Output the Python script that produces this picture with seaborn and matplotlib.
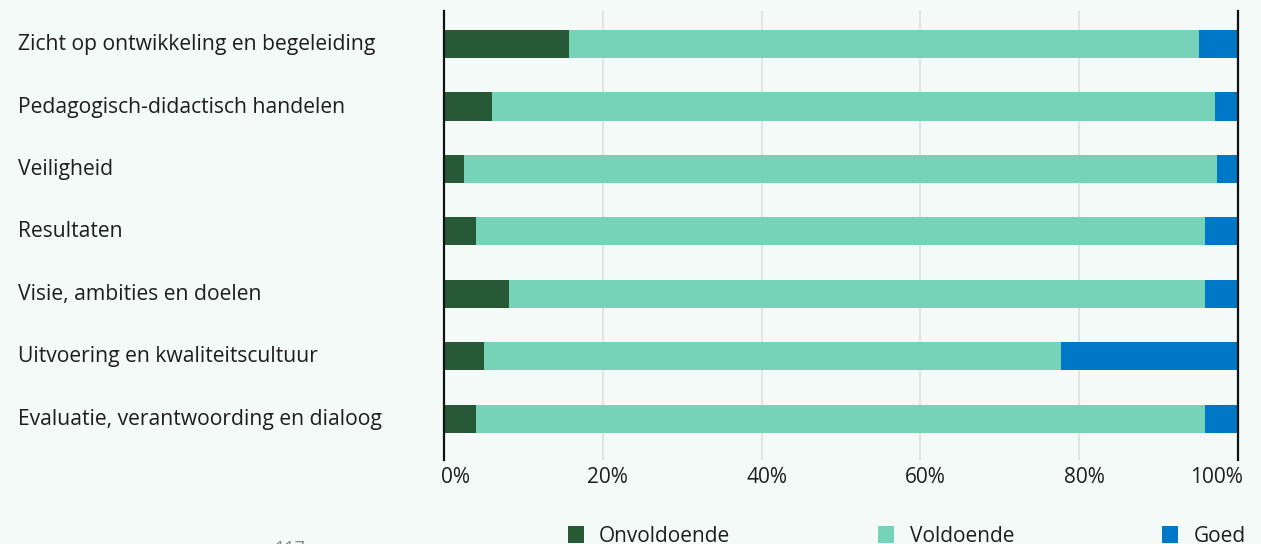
import matplotlib
matplotlib.use("Agg")
import matplotlib.pyplot as plt
import matplotlib.transforms as mtransforms
import seaborn as sns
import pandas as pd
from matplotlib.patches import Patch

categories = [
    "Zicht op ontwikkeling en begeleiding",
    "Pedagogisch-didactisch handelen",
    "Veiligheid",
    "Resultaten",
    "Visie, ambities en doelen",
    "Uitvoering en kwaliteitscultuur",
    "Evaluatie, verantwoording en dialoog",
]
onvoldoende = [15.7, 6.0, 2.5, 4.0, 8.2, 5.0, 4.0]
voldoende = [79.4, 91.1, 94.9, 91.8, 87.6, 72.7, 91.8]
goed = [4.9, 2.9, 2.6, 4.2, 4.2, 22.3, 4.2]
series_names = ["Onvoldoende", "Voldoende", "Goed"]
xtick_labels = ["0%", "20%", "40%", "60%", "80%", "100%"]

colors = ["#275937", "#76d3b8", "#0078c8"]
bg = "#f4faf8"
text_col = "#1e1e1e"

df = pd.DataFrame({"cat": categories, "onv": onvoldoende, "vold": voldoende, "goed": goed})
df["cum1"] = df["onv"]
df["cum2"] = df["onv"] + df["vold"]
df["cum3"] = df["cum2"] + df["goed"]

sns.set_theme(style="white")
plt.rcParams["font.family"] = ["Open Sans", "DejaVu Sans"]

fig = plt.figure(figsize=(12.61, 5.44), dpi=100, facecolor=bg)
ax = fig.add_axes([444 / 1261, 1 - 460 / 544, (1238 - 444) / 1261, (460 - 11) / 544])
ax.set_facecolor(bg)

# stacked by overlaying cumulative totals
for col, c in zip(["cum3", "cum2", "cum1"], colors[::-1]):
    sns.barplot(data=df, x=col, y="cat", color=c, width=0.45, orient="h",
                saturation=1, ax=ax, linewidth=0)

ax.set_xlim(0, 100)
ax.set_ylim(6.66, -0.53)
ax.set_xlabel("")
ax.set_ylabel("")
ax.set_xticks([0, 20, 40, 60, 80, 100])
for x in [20, 40, 60, 80]:
    ax.axvline(x, color="#e2e4e3", lw=1.5, zorder=0)
for s in ["top", "bottom"]:
    ax.spines[s].set_visible(False)
for s in ["left", "right"]:
    ax.spines[s].set_color("#111111")
    ax.spines[s].set_linewidth(1.6)

ax.set_xticklabels(xtick_labels, fontsize=15, color=text_col)
ax.tick_params(axis="x", length=0, pad=5)
tl = ax.get_xticklabels()
tl[0].set_ha("left")
tl[-1].set_ha("right")
for i, t in enumerate(tl):
    dx = -3 if i == 0 else 5
    t.set_transform(t.get_transform() + mtransforms.ScaledTranslation(dx / 100, 0, fig.dpi_scale_trans))

ax.tick_params(axis="y", length=0, pad=426 * 0.72)
for t in ax.get_yticklabels():
    t.set_ha("left")
    t.set_fontsize(15.2)
    t.set_color(text_col)
    t.set_transform(t.get_transform() + mtransforms.ScaledTranslation(0, 2 / 100, fig.dpi_scale_trans))

handles = [Patch(facecolor=c, edgecolor="none") for c in colors]
fig.legend(handles, series_names, loc="upper left", bbox_to_anchor=(568 / 1261, 1 - 526 / 544),
           ncol=3, frameon=False, fontsize=15, columnspacing=7.1, handlelength=0.75,
           handleheight=0.9, handletextpad=0.75, borderpad=0, borderaxespad=0,
           labelcolor=text_col)

fig.text(290 / 1261, 1 - 549 / 544, "117", fontsize=13, color="#888888", ha="center", va="center")

fig.savefig("out.png", dpi=100, facecolor=bg)
